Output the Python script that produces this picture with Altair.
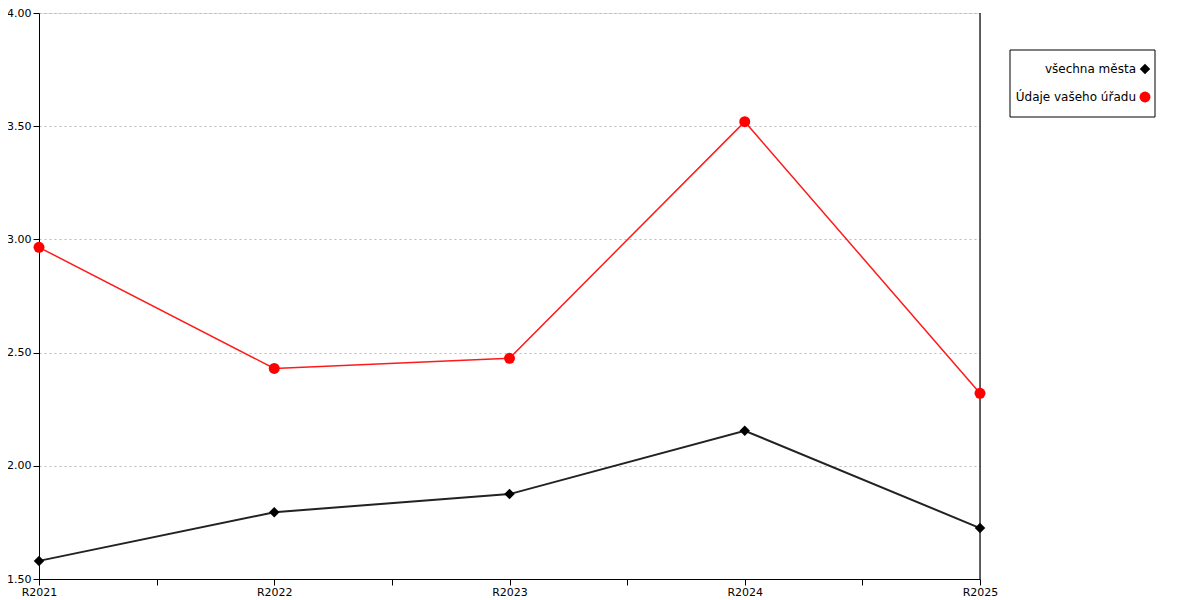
import altair as alt
import pandas as pd

years = ["R2021", "R2022", "R2023", "R2024", "R2025"]
all_cities = [1.58, 1.795, 1.875, 2.155, 1.725]
your_office = [2.965, 2.43, 2.475, 3.52, 2.32]
series_names = ["všechna města", "Údaje vašeho úřadu"]
y_ticks = [1.5, 2.0, 2.5, 3.0, 3.5, 4.0]

FONT = "DejaVu Sans"
W, H = 941, 566

df = pd.DataFrame({
    "idx": list(range(len(years))) * 2,
    "value": all_cities + your_office,
    "series": [series_names[0]] * len(years) + [series_names[1]] * len(years),
})

label_map = "{" + ",".join(f"'{i}':'{y}'" for i, y in enumerate(years)) + "}"
x_scale = alt.Scale(domain=[0, len(years) - 1], nice=False, zero=False)
y_scale = alt.Scale(domain=[y_ticks[0], y_ticks[-1]], nice=False, zero=False)

x_enc = alt.X(
    "idx:Q", scale=x_scale, title=None,
    axis=alt.Axis(
        values=[i / 2 for i in range(2 * len(years) - 1)],
        labelExpr=f"{label_map}[datum.value] || ''",
        grid=False, domainColor="black", tickColor="black", tickSize=6,
        labelFont=FONT, labelFontSize=11, labelColor="black", labelPadding=1,
        labelFlush=False, labelOverlap=False,
    ),
)
y_enc = alt.Y(
    "value:Q", scale=y_scale, title=None,
    axis=alt.Axis(
        values=y_ticks, format=".2f", grid=True, gridDash=[2, 3],
        gridColor="#bbbbbb", domainColor="black", tickColor="black", tickSize=6,
        labelFont=FONT, labelFontSize=11, labelColor="black", labelPadding=2,
    ),
)

black = df[df.series == series_names[0]]
red = df[df.series == series_names[1]]

black_line = alt.Chart(black).mark_line(color="#222222", strokeWidth=2).encode(x=x_enc, y=y_enc)
black_pts = alt.Chart(black).mark_point(shape="diamond", filled=True, color="black", size=110, opacity=1).encode(x="idx:Q", y="value:Q")
red_line = alt.Chart(red).mark_line(color="#ff1a1a", strokeWidth=1.5).encode(x="idx:Q", y="value:Q")
red_pts = alt.Chart(red).mark_point(shape="circle", filled=True, color="#ff0000", size=120, opacity=1).encode(x="idx:Q", y="value:Q")

right_rule = alt.Chart(pd.DataFrame({"x": [len(years) - 1]})).mark_rule(color="black", strokeWidth=1.2).encode(
    x="x:Q", y=alt.datum(y_ticks[0]), y2=alt.datum(y_ticks[-1])
)

# legend drawn by hand: text right-aligned, symbol on the right
box = alt.Chart(pd.DataFrame({"a": [0]})).mark_rect(fill="white", stroke="black", strokeWidth=1).encode(
    x=alt.value(971), x2=alt.value(1116), y=alt.value(37), y2=alt.value(104)
)
leg_txt1 = alt.Chart(pd.DataFrame({"t": [series_names[0]]})).mark_text(
    align="right", baseline="middle", font=FONT, fontSize=12, color="black"
).encode(text="t:N", x=alt.value(1097), y=alt.value(56))
leg_txt2 = alt.Chart(pd.DataFrame({"t": [series_names[1]]})).mark_text(
    align="right", baseline="middle", font=FONT, fontSize=12, color="black"
).encode(text="t:N", x=alt.value(1097), y=alt.value(84))
leg_sym1 = alt.Chart(pd.DataFrame({"a": [0]})).mark_point(
    shape="diamond", filled=True, color="black", size=110, opacity=1
).encode(x=alt.value(1106), y=alt.value(56))
leg_sym2 = alt.Chart(pd.DataFrame({"a": [0]})).mark_point(
    shape="circle", filled=True, color="#ff0000", size=120, opacity=1
).encode(x=alt.value(1106), y=alt.value(84))

chart = (
    alt.layer(black_line, red_line, right_rule, black_pts, red_pts,
              box, leg_txt1, leg_txt2, leg_sym1, leg_sym2)
    .properties(
        width=W, height=H,
        autosize=alt.AutoSizeParams(type="none"),
        padding={"left": 31, "top": 5, "right": 210, "bottom": 19},
    )
    .configure_view(stroke=None)
    .configure(background="white")
)

chart.save("out.html", embed_options={"renderer": "svg", "actions": False})
